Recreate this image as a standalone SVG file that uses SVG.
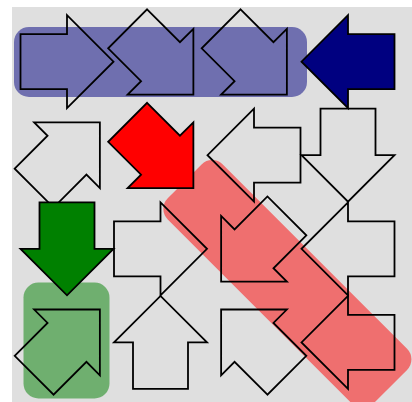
<svg xmlns="http://www.w3.org/2000/svg" xmlns:xlink="http://www.w3.org/1999/xlink" width="412" height="402" viewBox="0 0 412 402">
  <style>
    .ar { fill: none; stroke: #000; stroke-width: 1.8; stroke-linejoin: miter; }
    .navy { fill: #000080; }
    .red { fill: #ff0000; }
    .green { fill: #008000; }
    .hl-blue { fill: #000080; fill-opacity: 0.5; }
    .hl-red { fill: #ff0000; fill-opacity: 0.5; }
    .hl-green { fill: #008000; fill-opacity: 0.5; }
  </style>
  <defs>
    <path id="arrow" d="M-46.5,-27.5 H0 V-46.5 L46.5,0 L0,46.5 V27.5 H-46.5 Z"/>
  </defs>
  <rect x="12" y="7" width="400" height="395" fill="#dfdfdf"/>
  <g id="highlights">
    <rect class="hl-blue" x="14" y="27" width="293" height="70" rx="15"/>
    <rect class="hl-green" x="23.5" y="282.5" width="86" height="116" rx="15"/>
    <rect class="hl-red" x="-145.3" y="-38.9" width="290.6" height="77.8" rx="15" transform="translate(287.4,284.1) rotate(45)"/>
  </g>
  <g id="connectors"/>
  <g id="r1c1"><use xlink:href="#arrow" class="ar" transform="translate(67,61.7) rotate(0)"/></g>
  <g id="r1c2"><use xlink:href="#arrow" class="ar" transform="translate(160.5,61.7) rotate(45)"/></g>
  <g id="r1c3"><use xlink:href="#arrow" class="ar" transform="translate(254,61.7) rotate(45)"/></g>
  <g id="r1c4"><use xlink:href="#arrow" class="ar navy" transform="translate(348,61.7) rotate(180)"/></g>
  <g id="r2c1"><use xlink:href="#arrow" class="ar" transform="translate(67,155.2) rotate(-45)"/></g>
  <g id="r2c2"><use xlink:href="#arrow" class="ar red" transform="translate(160.5,155.2) rotate(45)"/></g>
  <g id="r2c3"><use xlink:href="#arrow" class="ar" transform="translate(254,155.2) rotate(180)"/></g>
  <g id="r2c4"><use xlink:href="#arrow" class="ar" transform="translate(348,155.2) rotate(90)"/></g>
  <g id="r3c1"><use xlink:href="#arrow" class="ar green" transform="translate(67,248.8) rotate(90)"/></g>
  <g id="r3c2"><use xlink:href="#arrow" class="ar" transform="translate(160.5,248.8) rotate(0)"/></g>
  <g id="r3c3"><use xlink:href="#arrow" class="ar" transform="translate(254,248.8) rotate(135)"/></g>
  <g id="r3c4"><use xlink:href="#arrow" class="ar" transform="translate(348,248.8) rotate(180)"/></g>
  <g id="r4c1"><use xlink:href="#arrow" class="ar" transform="translate(67,342.4) rotate(-45)"/></g>
  <g id="r4c2"><use xlink:href="#arrow" class="ar" transform="translate(160.5,342.4) rotate(-90)"/></g>
  <g id="r4c3"><use xlink:href="#arrow" class="ar" transform="translate(254,342.4) rotate(-135)"/></g>
  <g id="r4c4"><use xlink:href="#arrow" class="ar" transform="translate(348,342.4) rotate(180)"/></g>
</svg>
